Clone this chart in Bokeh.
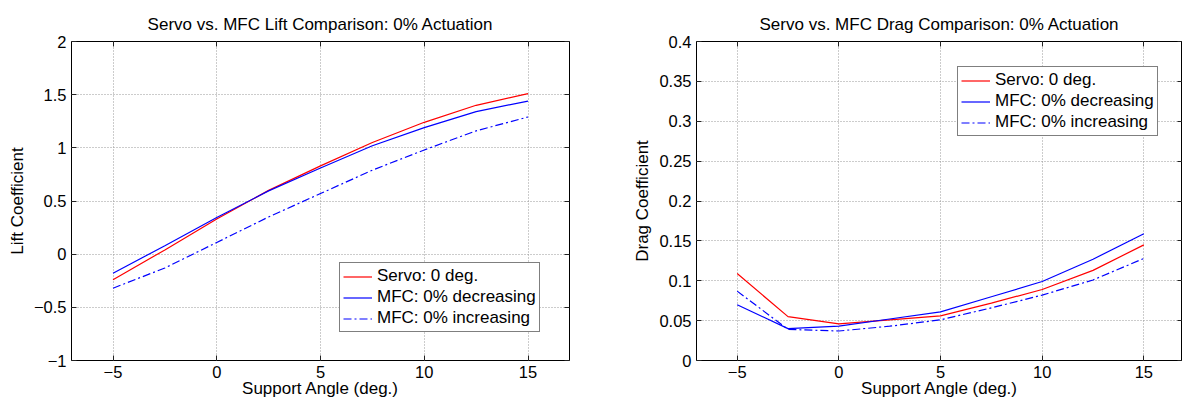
from bokeh.plotting import figure
from bokeh.layouts import row
from bokeh.models import FixedTicker, LinearAxis, Legend, LegendItem, Range1d
from bokeh.embed import file_html
from bokeh.resources import INLINE

# ---------------- data ----------------
angles = [-5, -2.5, 0, 2.5, 5, 7.5, 10, 12.5, 15]

lift_servo = [-0.24, 0.04, 0.33, 0.60, 0.83, 1.05, 1.24, 1.40, 1.51]
lift_mfc_dec = [-0.18, 0.08, 0.345, 0.595, 0.81, 1.02, 1.19, 1.34, 1.44]
lift_mfc_inc = [-0.32, -0.13, 0.11, 0.35, 0.57, 0.79, 0.98, 1.16, 1.29]

drag_servo = [0.109, 0.055, 0.046, 0.051, 0.056, 0.072, 0.089, 0.113, 0.145]
drag_mfc_dec = [0.070, 0.040, 0.043, 0.052, 0.061, 0.080, 0.099, 0.127, 0.159]
drag_mfc_inc = [0.087, 0.039, 0.037, 0.043, 0.051, 0.066, 0.082, 0.101, 0.128]

series_labels = ["Servo: 0 deg.", "MFC: 0% decreasing", "MFC: 0% increasing"]

x_ticks = [-5, 0, 5, 10, 15]
x_tick_labels = ["\u22125", "0", "5", "10", "15"]
lift_ticks = [-1, -0.5, 0, 0.5, 1, 1.5, 2]
lift_tick_labels = ["\u22121", "\u22120.5", "0", "0.5", "1", "1.5", "2"]
drag_ticks = [0, 0.05, 0.1, 0.15, 0.2, 0.25, 0.3, 0.35, 0.4]
drag_tick_labels = ["0", "0.05", "0.1", "0.15", "0.2", "0.25", "0.3", "0.35", "0.4"]

FONT = "Liberation Sans"


def style_axis(ax, ticks, labels):
    ax.ticker = FixedTicker(ticks=ticks)
    ax.major_label_overrides = dict(zip(ticks, labels))
    ax.major_label_text_font = FONT
    ax.major_label_text_font_size = "16.5px"
    ax.major_label_text_color = "black"
    ax.axis_label_text_font = FONT
    ax.axis_label_text_font_size = "17px"
    ax.axis_label_text_font_style = "normal"
    ax.axis_label_text_color = "black"
    ax.axis_line_color = None
    ax.major_tick_in = 5
    ax.major_tick_out = 0
    ax.minor_tick_in = 0
    ax.minor_tick_out = 0
    ax.major_tick_line_color = "#222222"
    ax.major_label_standoff = 5


def make_fig(title, ylabel, y_vals, yticks, ylabels, y_range, x_end, width,
             mbl, mbr, legend_loc):
    p = figure(width=width, height=400,
               x_range=Range1d(-7, x_end), y_range=Range1d(*y_range),
               output_backend="svg", toolbar_location=None,
               min_border_left=mbl, min_border_right=mbr,
               min_border_top=41, min_border_bottom=40)
    p.title.text = title
    p.title.align = "center"
    p.title.text_font = FONT
    p.title.text_font_size = "17px"
    p.title.text_font_style = "normal"
    p.title.text_color = "black"
    p.title.standoff = 16

    p.outline_line_color = "black"
    p.outline_line_width = 1
    p.outline_line_alpha = 1

    style_axis(p.xaxis[0], x_ticks, x_tick_labels)
    style_axis(p.yaxis[0], yticks, ylabels)
    p.xaxis.axis_label = "Support Angle (deg.)"
    p.xaxis.axis_label_standoff = -2
    p.yaxis.axis_label = ylabel
    p.yaxis.axis_label_standoff = 4

    for loc, ticks in (("above", x_ticks), ("right", yticks)):
        ax = LinearAxis(ticker=FixedTicker(ticks=ticks))
        ax.major_label_overrides = {t: "" for t in ticks}
        ax.major_label_text_font_size = "0px"
        ax.major_label_standoff = 0
        ax.axis_line_color = None
        ax.major_tick_in = 5
        ax.major_tick_out = 0
        ax.minor_tick_in = 0
        ax.minor_tick_out = 0
        ax.major_tick_line_color = "#222222"
        p.add_layout(ax, loc)

    p.xgrid.ticker = FixedTicker(ticks=x_ticks)
    p.ygrid.ticker = FixedTicker(ticks=yticks)
    for g in (p.xgrid, p.ygrid):
        g.grid_line_color = "#999999"
        g.grid_line_dash = "1 2"
        g.grid_line_width = 1

    r1 = p.line(angles, y_vals[0], line_color="#ff0000", line_width=1.2)
    r2 = p.line(angles, y_vals[1], line_color="#0000ff", line_width=1.2)
    r3 = p.line(angles, y_vals[2], line_color="#0000ff", line_width=1.2,
                line_dash="8 3 2 3")

    legend = Legend(items=[LegendItem(label=lab, renderers=[r])
                           for lab, r in zip(series_labels, (r1, r2, r3))],
                    location=legend_loc, margin=0, padding=3, spacing=1,
                    glyph_width=29, glyph_height=19, label_height=19,
                    label_standoff=5,
                    label_text_font=FONT, label_text_font_size="17px",
                    label_text_color="black",
                    border_line_color="black", border_line_width=1.3,
                    background_fill_color="white", background_fill_alpha=1)
    p.add_layout(legend)
    return p


p1 = make_fig("Servo vs. MFC Lift Comparison: 0% Actuation", "Lift Coefficient",
              (lift_servo, lift_mfc_dec, lift_mfc_inc), lift_ticks, lift_tick_labels,
              (-1, 2), 17, 630, 71, 61, (268, 28))
p2 = make_fig("Servo vs. MFC Drag Comparison: 0% Actuation", "Drag Coefficient",
              (drag_servo, drag_mfc_dec, drag_mfc_inc), drag_ticks, drag_tick_labels,
              (0, 0.4), 16.9, 552, 64, 0, (261, 224))

layout = row(p1, p2, spacing=0)
open("out.html", "w").write(file_html(layout, INLINE))
